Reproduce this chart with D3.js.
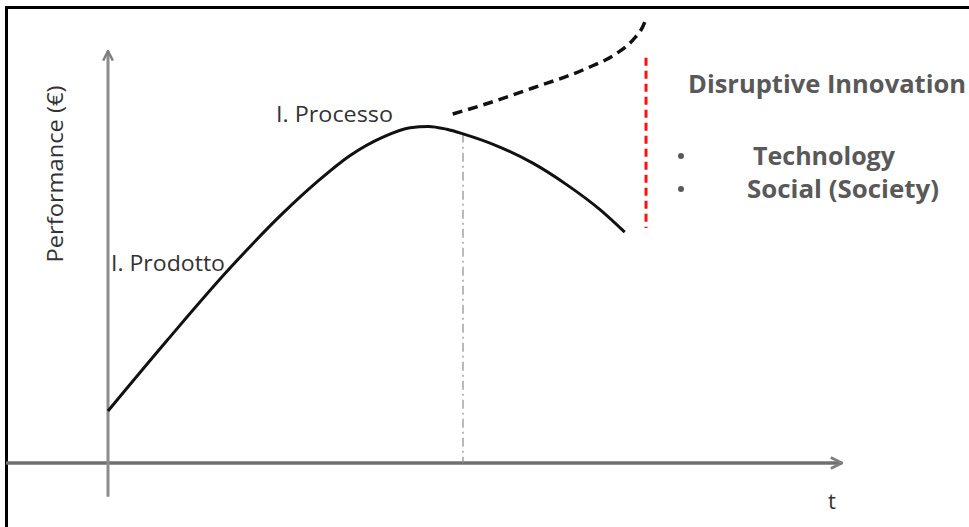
<!DOCTYPE html>
<html>
<head>
<meta charset="utf-8">
<script src="https://cdn.jsdelivr.net/npm/d3@7"></script>
<style>
  body { margin: 0; background: #fff; }
  svg { display: block; font-family: "Open Sans", "Noto Sans", sans-serif; }
</style>
</head>
<body>
<svg width="969" height="527"></svg>
<script>
// main curve (t, performance)
const lifeT = [0, 8, 16.6, 23.8, 28.4, 32.9, 37.4, 41.1, 43.6, 46.1, 48.3, 53.3, 57.8, 62.4, 66.9, 70.3];
const lifePerf = [12.6, 29.6, 47.2, 60.5, 68.0, 74.4, 78.9, 81.2, 81.5, 80.8, 79.7, 76.5, 72.6, 67.4, 61.4, 55.9];

// disruptive curve (dashed)
const disrT = [46.9, 51.0, 57.8, 64.9, 69.3, 71.4, 72.8, 73.3];
const disrPerf = [84.5, 86.7, 90.8, 95.4, 99.3, 102.4, 105.8, 108.0];

// red gap marker + peak marker
const gapT = 73.2, gapPerf = [56.9, 98.1];
const peakT = 48.3, peakPerf = 79.7;

const labels = ["I. Prodotto", "I. Processo"];
const bullets = ["Technology", "Social (Society)"];

const svg = d3.select("svg");

const x = d3.scaleLinear().domain([0, 100]).range([108, 843]);
const y = d3.scaleLinear().domain([0, 100]).range([463, 50]);

// frame
svg.append("path")
    .attr("d", "M6.5,527 L6.5,7.5 L969,7.5")
    .attr("fill", "none")
    .attr("stroke", "#000")
    .attr("stroke-width", 3);

const defs = svg.append("defs");
defs.append("marker")
    .attr("id", "arr")
    .attr("viewBox", "0 0 10 10")
    .attr("refX", 9).attr("refY", 5)
    .attr("markerWidth", 4).attr("markerHeight", 4)
    .attr("orient", "auto")
    .append("path")
    .attr("d", "M1,1 L9,5 L1,9")
    .attr("fill", "none")
    .attr("stroke", "#7f7f7f")
    .attr("stroke-width", 2);

// axes
svg.append("line")
    .attr("x1", 6).attr("x2", x(100) - 1)
    .attr("y1", y(0)).attr("y2", y(0))
    .attr("stroke", "#6f6f6f").attr("stroke-width", 3.5)
    .attr("marker-end", "url(#arr)");

svg.append("line")
    .attr("x1", x(0)).attr("x2", x(0))
    .attr("y1", y(-8.2)).attr("y2", y(100) + 1)
    .attr("stroke", "#8c8c8c").attr("stroke-width", 3)
    .attr("marker-end", "url(#arr)");

// dash-dot from the peak
svg.append("line")
    .attr("x1", x(peakT)).attr("x2", x(peakT))
    .attr("y1", y(peakPerf)).attr("y2", y(0))
    .attr("stroke", "#8c8c8c").attr("stroke-width", 1.2)
    .attr("stroke-dasharray", "9,4,2,4");

const line = d3.line()
    .x(d => x(d[0]))
    .y(d => y(d[1]))
    .curve(d3.curveMonotoneX);

svg.append("path")
    .datum(d3.zip(lifeT, lifePerf))
    .attr("d", line)
    .attr("fill", "none")
    .attr("stroke", "#111")
    .attr("stroke-width", 3);

svg.append("path")
    .datum(d3.zip(disrT, disrPerf))
    .attr("d", line)
    .attr("fill", "none")
    .attr("stroke", "#111")
    .attr("stroke-width", 3.5)
    .attr("stroke-dasharray", "10,6");

svg.append("line")
    .attr("x1", x(gapT)).attr("x2", x(gapT))
    .attr("y1", y(gapPerf[1])).attr("y2", y(gapPerf[0]))
    .attr("stroke", "#ff1010").attr("stroke-width", 3)
    .attr("stroke-dasharray", "8,5");

// texts
function fitText(t, w) {
    t.attr("textLength", w).attr("lengthAdjust", "spacingAndGlyphs");
    return t;
}

fitText(svg.append("text")
    .attr("transform", "translate(63,174) rotate(-90)")
    .attr("text-anchor", "middle")
    .attr("font-size", 21)
    .attr("fill", "#333")
    .text("Performance (€)"), 177);

fitText(svg.append("text")
    .attr("x", 111).attr("y", 271)
    .attr("font-size", 21)
    .attr("fill", "#333")
    .text(labels[0]), 114);

fitText(svg.append("text")
    .attr("x", 276).attr("y", 122)
    .attr("font-size", 21)
    .attr("fill", "#333")
    .text(labels[1]), 117);

svg.append("text")
    .attr("x", 832).attr("y", 509)
    .attr("text-anchor", "middle")
    .attr("font-size", 22)
    .attr("fill", "#333")
    .text("t");

fitText(svg.append("text")
    .attr("x", 688).attr("y", 93)
    .attr("font-size", 25)
    .attr("font-weight", "bold")
    .attr("fill", "#595959")
    .text("Disruptive Innovation"), 278);

const bx = [753, 747], by = [165, 198], bw = [142, 192];
bullets.forEach((b, i) => {
    svg.append("circle")
        .attr("cx", 681).attr("cy", by[i] - 9)
        .attr("r", 3)
        .attr("fill", "#595959");
    fitText(svg.append("text")
        .attr("x", bx[i]).attr("y", by[i])
        .attr("font-size", 25)
        .attr("font-weight", "bold")
        .attr("fill", "#595959")
        .text(b), bw[i]);
});
</script>
</body>
</html>
